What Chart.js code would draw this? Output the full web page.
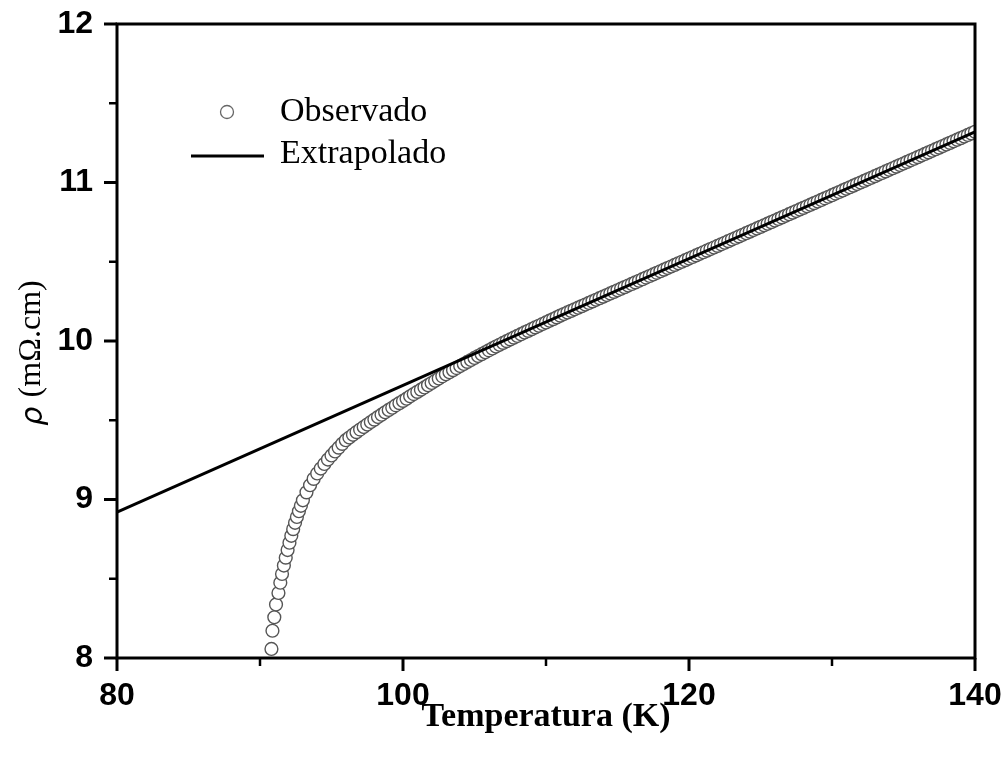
<!DOCTYPE html>
<html lang="pt-br">
<head>
<meta charset="UTF-8">
<title>Resistividade x Temperatura</title>
<script src="https://cdn.jsdelivr.net/npm/chart.js"></script>
<style>
    body { margin: 0; background: #ffffff; }
    #grafico { width: 1008px; height: 760px; }
</style>
</head>
<body>
<div id="grafico"><canvas id="myChartCanvas" width="1008" height="760"></canvas></div>

<script>
    // pontos observados (K, mOhm.cm)
    const temperatura = [
        90.80, 90.87, 91.00, 91.12, 91.29, 91.42, 91.54, 91.67, 91.80, 91.93,
        92.06, 92.19, 92.32, 92.45, 92.58, 92.72, 92.86,
        93.00, 93.25, 93.50, 93.75, 94.00, 94.25, 94.50, 94.75, 95.00, 95.25,
        95.50, 95.75, 96.00, 96.25, 96.50, 96.75, 97.00, 97.25, 97.50, 97.75,
        98.00, 98.25, 98.50, 98.75, 99.00, 99.25, 99.50, 99.75, 100.00, 100.25,
        100.50, 100.75, 101.00, 101.25, 101.50, 101.75, 102.00, 102.25, 102.50, 102.75,
        103.00, 103.25, 103.50, 103.75, 104.00, 104.25, 104.50, 104.75, 105.00, 105.25,
        105.50, 105.75, 106.00, 106.25, 106.50, 106.75, 107.00, 107.25, 107.50, 107.75,
        108.00, 108.25, 108.50, 108.75, 109.00, 109.25, 109.50, 109.75, 110.00, 110.25,
        110.50, 110.75, 111.00,
        111.25, 111.50, 111.75, 112.00, 112.25, 112.50, 112.75, 113.00, 113.25, 113.50,
        113.75, 114.00, 114.25, 114.50, 114.75, 115.00, 115.25, 115.50, 115.75, 116.00,
        116.25, 116.50, 116.75, 117.00, 117.25, 117.50, 117.75, 118.00, 118.25, 118.50,
        118.75, 119.00, 119.25, 119.50, 119.75, 120.00, 120.25, 120.50, 120.75, 121.00,
        121.25, 121.50, 121.75, 122.00, 122.25, 122.50, 122.75, 123.00, 123.25, 123.50,
        123.75, 124.00, 124.25, 124.50, 124.75, 125.00, 125.25, 125.50, 125.75, 126.00,
        126.25, 126.50, 126.75, 127.00, 127.25, 127.50, 127.75, 128.00, 128.25, 128.50,
        128.75, 129.00, 129.25, 129.50, 129.75, 130.00, 130.25, 130.50, 130.75, 131.00,
        131.25, 131.50, 131.75, 132.00, 132.25, 132.50, 132.75, 133.00, 133.25, 133.50,
        133.75, 134.00, 134.25, 134.50, 134.75, 135.00, 135.25, 135.50, 135.75, 136.00,
        136.25, 136.50, 136.75, 137.00, 137.25, 137.50, 137.75, 138.00, 138.25, 138.50,
        138.75, 139.00, 139.25, 139.50, 139.75, 140.00
    ];
    const rho = [
        8.057, 8.172, 8.257, 8.338, 8.410, 8.475, 8.530, 8.583, 8.633, 8.681,
        8.727, 8.771, 8.813, 8.853, 8.890, 8.926, 8.960,
        8.995, 9.045, 9.090, 9.130, 9.164, 9.195, 9.224, 9.252, 9.278, 9.303,
        9.327, 9.351, 9.374, 9.391, 9.408, 9.425, 9.441, 9.457, 9.473, 9.489,
        9.504, 9.520, 9.535, 9.550, 9.565, 9.579, 9.594, 9.608, 9.622, 9.636,
        9.651, 9.665, 9.679, 9.693, 9.707, 9.721, 9.735, 9.749, 9.763, 9.777,
        9.790, 9.803, 9.816, 9.829, 9.842, 9.855, 9.868, 9.880, 9.893, 9.905,
        9.917, 9.929, 9.941, 9.953, 9.965, 9.976, 9.988, 9.999, 10.010, 10.021,
        10.032, 10.043, 10.054, 10.064, 10.075, 10.086, 10.096, 10.107, 10.117, 10.128,
        10.138, 10.149, 10.160,
        10.17, 10.18, 10.19, 10.20, 10.21, 10.22, 10.23, 10.24, 10.25, 10.26,
        10.27, 10.28, 10.29, 10.30, 10.31, 10.32, 10.33, 10.34, 10.35, 10.36,
        10.37, 10.38, 10.39, 10.40, 10.41, 10.42, 10.43, 10.44, 10.45, 10.46,
        10.47, 10.48, 10.49, 10.50, 10.51, 10.52, 10.53, 10.54, 10.55, 10.56,
        10.57, 10.58, 10.59, 10.60, 10.61, 10.62, 10.63, 10.64, 10.65, 10.66,
        10.67, 10.68, 10.69, 10.70, 10.71, 10.72, 10.73, 10.74, 10.75, 10.76,
        10.77, 10.78, 10.79, 10.80, 10.81, 10.82, 10.83, 10.84, 10.85, 10.86,
        10.87, 10.88, 10.89, 10.90, 10.91, 10.92, 10.93, 10.94, 10.95, 10.96,
        10.97, 10.98, 10.99, 11.00, 11.01, 11.02, 11.03, 11.04, 11.05, 11.06,
        11.07, 11.08, 11.09, 11.10, 11.11, 11.12, 11.13, 11.14, 11.15, 11.16,
        11.17, 11.18, 11.19, 11.20, 11.21, 11.22, 11.23, 11.24, 11.25, 11.26,
        11.27, 11.28, 11.29, 11.30, 11.31, 11.32
    ];

    // reta extrapolada
    const retaT = [80, 140];
    const retaRho = [8.92, 11.32];

    // eixos
    const labelsX = [80, 100, 120, 140];
    const labelsY = [8, 9, 10, 11, 12];

    const nomes = ['Observado', 'Extrapolado'];

    // moldura, marcas dos eixos, titulo do eixo y e legenda desenhados a mao
    const moldura = {
        id: 'moldura',
        afterDraw(chart) {
            const ctx = chart.ctx;
            const area = chart.chartArea;
            const x = chart.scales.x;
            const y = chart.scales.y;
            ctx.save();
            ctx.strokeStyle = '#000';
            ctx.lineWidth = 3;
            ctx.strokeRect(area.left, area.top, area.right - area.left, area.bottom - area.top);

            x.ticks.forEach(t => {
                const px = x.getPixelForValue(t.value);
                const major = labelsX.includes(t.value);
                ctx.lineWidth = major ? 3 : 2.5;
                ctx.beginPath();
                ctx.moveTo(px, area.bottom);
                ctx.lineTo(px, area.bottom + (major ? 13 : 8));
                ctx.stroke();
            });
            y.ticks.forEach(t => {
                const py = y.getPixelForValue(t.value);
                const major = labelsY.includes(t.value);
                ctx.lineWidth = major ? 3 : 2.5;
                ctx.beginPath();
                ctx.moveTo(area.left, py);
                ctx.lineTo(area.left - (major ? 13 : 8), py);
                ctx.stroke();
            });

            // titulo do eixo y (rho em italico)
            ctx.fillStyle = '#000';
            ctx.translate(32, 353);
            ctx.rotate(-Math.PI / 2);
            ctx.textBaseline = 'middle';
            ctx.textAlign = 'left';
            const parte1 = 'ρ';
            const parte2 = ' (mΩ.cm)';
            ctx.font = 'italic 32px "DejaVu Sans"';
            const w1 = ctx.measureText(parte1).width;
            ctx.font = '32px "Liberation Serif"';
            const w2 = ctx.measureText(parte2).width;
            const x0 = -(w1 + w2) / 2;
            ctx.font = 'italic 30px "DejaVu Sans"';
            ctx.fillText(parte1, x0, 2);
            ctx.font = '32px "Liberation Serif"';
            ctx.fillText(parte2, x0 + w1, 0);
            ctx.setTransform(1, 0, 0, 1, 0, 0);

            // legenda
            ctx.lineWidth = 1.3;
            ctx.strokeStyle = '#666';
            ctx.beginPath();
            ctx.arc(227, 112, 6.5, 0, Math.PI * 2);
            ctx.stroke();
            ctx.strokeStyle = '#000';
            ctx.lineWidth = 3;
            ctx.beginPath();
            ctx.moveTo(191, 156);
            ctx.lineTo(264, 156);
            ctx.stroke();
            ctx.fillStyle = '#000';
            ctx.font = '34px "Liberation Serif"';
            ctx.textBaseline = 'middle';
            ctx.textAlign = 'left';
            ctx.fillText(nomes[0], 280, 112);
            ctx.fillText(nomes[1], 280, 154);
            ctx.restore();
        }
    };

    const dados = {
        datasets: [{
            label: nomes[1],
            type: 'line',
            data: retaT.map((t, i) => ({ x: t, y: retaRho[i] })),
            borderColor: '#000',
            borderWidth: 3,
            pointRadius: 0,
            fill: false,
            order: 0
        }, {
            label: nomes[0],
            data: temperatura.map((t, i) => ({ x: t, y: rho[i] })),
            pointStyle: 'circle',
            pointRadius: 6.4,
            borderWidth: 1.4,
            borderColor: '#555',
            backgroundColor: '#fff',
            clip: 0,
            order: 1
        }]
    };

    const config = {
        type: 'scatter',
        data: dados,
        options: {
            responsive: false,
            animation: false,
            layout: { padding: { top: 24, right: 33, left: 0, bottom: 0 } },
            plugins: {
                legend: { display: false },
                tooltip: { enabled: false }
            },
            scales: {
                x: {
                    type: 'linear',
                    min: 80,
                    max: 140,
                    afterFit(scale) {
                        scale.height = 102;
                        scale.paddingLeft = 0;
                        scale.paddingRight = 0;
                    },
                    grid: { display: false, drawTicks: false },
                    border: { display: false },
                    ticks: {
                        stepSize: 10,
                        padding: 19,
                        maxRotation: 0,
                        color: '#000',
                        font: { family: '"Liberation Sans"', size: 32, weight: 'bold' },
                        callback: v => labelsX.includes(v) ? v : ''
                    },
                    title: {
                        display: true,
                        text: 'Temperatura (K)',
                        color: '#000',
                        font: { family: '"Liberation Serif"', size: 34, weight: 'bold' },
                        padding: { top: 22, bottom: 22 }
                    }
                },
                y: {
                    type: 'linear',
                    min: 8,
                    max: 12,
                    afterFit(scale) {
                        scale.width = 117;
                        scale.paddingTop = 0;
                        scale.paddingBottom = 0;
                    },
                    grid: { display: false, drawTicks: false },
                    border: { display: false },
                    ticks: {
                        stepSize: 0.5,
                        padding: 24,
                        color: '#000',
                        font: { family: '"Liberation Sans"', size: 32, weight: 'bold' },
                        callback: v => labelsY.includes(v) ? v : ''
                    },
                    title: { display: false }
                }
            }
        },
        plugins: [moldura]
    };

    let myChart = new Chart(document.getElementById('myChartCanvas'), config);
</script>
</body>
</html>
